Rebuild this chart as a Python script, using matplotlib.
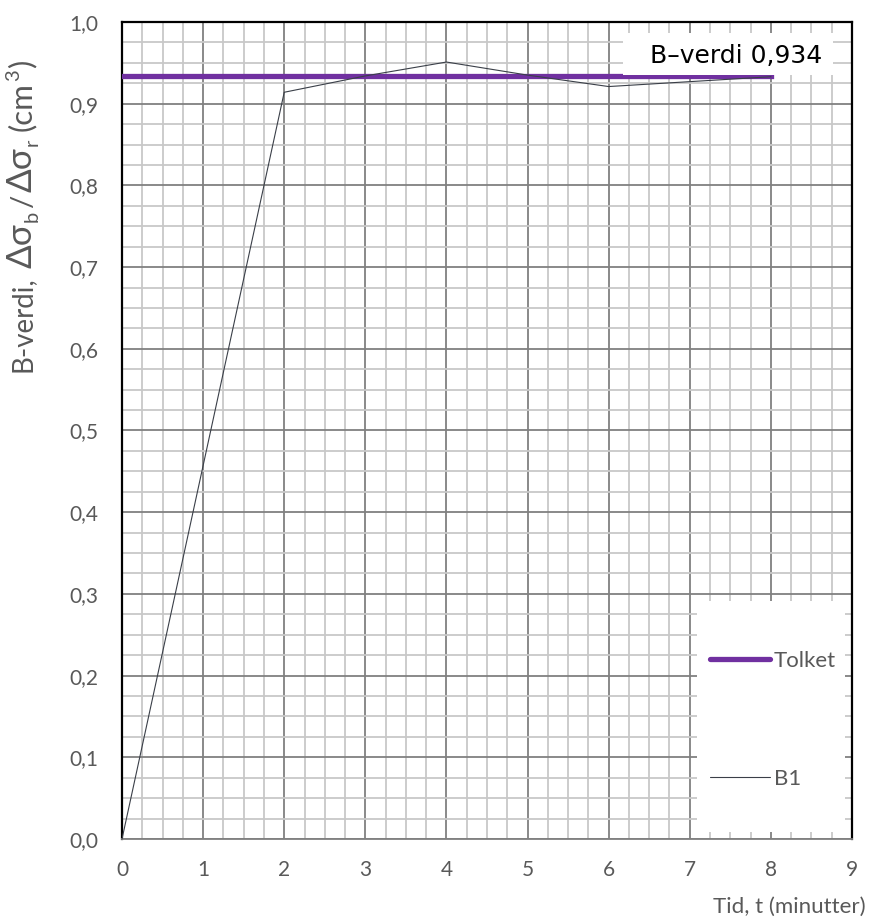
import matplotlib
matplotlib.use('agg')
import matplotlib.pyplot as plt
from matplotlib.ticker import MultipleLocator, FuncFormatter
from matplotlib.patches import Rectangle

# data
tid = [0, 2, 3, 4, 5, 6, 7, 8]
b1 = [0.0, 0.914, 0.934, 0.951, 0.935, 0.921, 0.927, 0.933]
b_tolket = 0.934
tolket_x = [0, 8]

plt.rcParams['font.family'] = ['Lato', 'DejaVu Sans']
txt_col = '#595959'
purple = '#7030a0'

W, H = 869, 923
fig = plt.figure(figsize=(W / 100, H / 100), dpi=100)
ax = fig.add_axes([122 / W, 1 - 839 / H, 730 / W, 817 / H])

ax.set_xlim(0, 9)
ax.set_ylim(0, 1.0)
ax.xaxis.set_major_locator(MultipleLocator(1))
ax.xaxis.set_minor_locator(MultipleLocator(0.25))
ax.yaxis.set_major_locator(MultipleLocator(0.1))
ax.yaxis.set_minor_locator(MultipleLocator(0.025))
ax.yaxis.set_major_formatter(FuncFormatter(lambda v, p: f'{v:.1f}'.replace('.', ',')))
ax.grid(which='major', color='#808080', lw=1.3, zorder=0)
ax.grid(which='minor', color='#c8c8c8', lw=1.3, zorder=0)
ax.set_axisbelow(True)
ax.tick_params(which='both', length=0, labelsize=15, colors=txt_col)
ax.tick_params(axis='y', pad=17)
ax.tick_params(axis='x', pad=15)

for s in ['left', 'top', 'right']:
    ax.spines[s].set_color('black')
    ax.spines[s].set_linewidth(1.6)
ax.spines['bottom'].set_color('#808080')
ax.spines['bottom'].set_linewidth(1.3)

ax.plot(tolket_x, [b_tolket, b_tolket], color=purple, lw=3.8, label='Tolket', zorder=3)
ax.plot(tid, b1, color='#3a3f48', lw=0.8, label='B1', zorder=4)

# value label box
ax.add_patch(Rectangle((0.686, 0.935), 0.288, 0.052, transform=ax.transAxes,
                       facecolor='white', edgecolor='none', zorder=5))
ax.text(0.959, 0.9585, 'B\u2013verdi 0,934', transform=ax.transAxes, ha='right',
        va='center', fontsize=18, family='DejaVu Sans', color='black', zorder=6)

# legend area
ax.add_patch(Rectangle((0.788, 0.009), 0.202, 0.282, transform=ax.transAxes,
                       facecolor='white', edgecolor='none', zorder=2))
leg = ax.legend(loc='center left', bbox_to_anchor=(0.805, 0.146), frameon=False,
                handlelength=2.7, handletextpad=0.2, labelspacing=4.4,
                fontsize=16, borderaxespad=0, borderpad=0)
for t in leg.get_texts():
    t.set_color(txt_col)
for l in leg.get_lines():
    l.set_solid_capstyle('round')

ax.set_xlabel('Tid, t (minutter)', fontsize=16, color=txt_col)
ax.xaxis.set_label_coords(1.018, -0.083)
ax.xaxis.label.set_ha('right')
ax.xaxis.label.set_va('center')

# y label built piece by piece (bigger delta-sigma like the original)
# (text, size, baseline shift px, gap after px)
pieces = [('B-verdi,', 15, 0, 6), ('\u0394\u03c3', 19, 0, 1), ('b', 11, 5, 2),
          ('/', 16, 0, 2), ('\u0394\u03c3', 19, 0, 1), ('r', 11, 5, 6),
          ('(cm', 17, 0, 1), ('3', 11, -9, 1), (')', 17, 0, 0)]
renderer = fig.canvas.get_renderer()
y_bottom, y_top = 372, 60


def draw_label(scale):
    texts = []
    y = y_bottom
    for s, fs, shift, gap in pieces:
        t = fig.text((31 + shift * scale) / W, 1 - y / H, s,
                     rotation=90, rotation_mode='anchor', ha='left', va='baseline',
                     fontsize=fs * scale, color=txt_col)
        texts.append(t)
        y -= t.get_window_extent(renderer).height + gap * scale
    return texts, y


texts, y_end = draw_label(1.0)
for t in texts:
    t.remove()
draw_label((y_bottom - y_top) / (y_bottom - y_end))

fig.savefig('out.png', dpi=100)
